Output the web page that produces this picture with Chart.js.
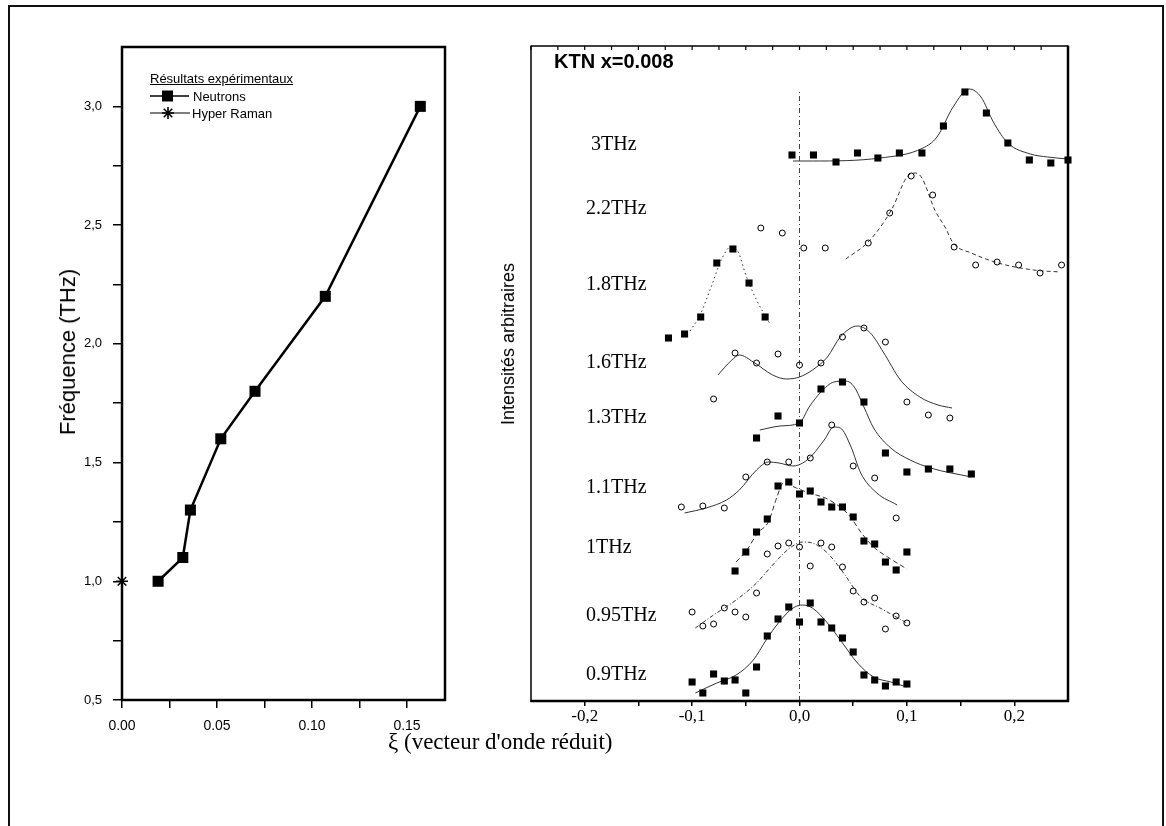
<!DOCTYPE html>
<html><head><meta charset="utf-8">
<script src="https://cdn.jsdelivr.net/npm/chart.js@4.4.0/dist/chart.umd.min.js"></script>
<style>
body{margin:0;background:#fff;width:1166px;height:826px;overflow:hidden;position:relative;font-family:"Liberation Sans",Arial,sans-serif;}
#frame{position:absolute;left:8px;top:5px;width:1152px;height:840px;border:2px solid #111;border-bottom:none;}
#cL{position:absolute;left:0;top:0;}
#cR{position:absolute;left:480px;top:0;}
.t{position:absolute;white-space:nowrap;color:#000;}
.serif{font-family:"Liberation Serif","Times New Roman",serif;}
.thz{font-size:20px;line-height:20px;}
.leg{font-size:13px;line-height:13px;}
.rot{transform:translate(-50%,-50%) rotate(-90deg);}
</style></head>
<body>
<div id="frame"></div>
<canvas id="cL" width="460" height="730"></canvas>
<canvas id="cR" width="686" height="731"></canvas>

<div class="t rot" style="left:68px;top:352px;font-size:22px;line-height:22px;">Fréquence (THz)</div>
<div class="t rot" style="left:508px;top:344px;font-size:18px;line-height:18px;">Intensités arbitraires</div>
<div class="t serif" style="left:388px;top:730px;font-size:23px;line-height:23px;">ξ (vecteur d'onde réduit)</div>

<div class="t leg" style="left:150px;top:72px;text-decoration:underline;">Résultats expérimentaux</div>
<div class="t leg" style="left:193px;top:90px;">Neutrons</div>
<div class="t leg" style="left:192px;top:107px;">Hyper Raman</div>

<div class="t" style="left:554px;top:51px;font-size:20px;line-height:20px;font-weight:bold;">KTN x=0.008</div>
<div class="t serif thz" style="left:591px;top:133px;">3THz</div>
<div class="t serif thz" style="left:586px;top:197px;">2.2THz</div>
<div class="t serif thz" style="left:586px;top:273px;">1.8THz</div>
<div class="t serif thz" style="left:586px;top:351px;">1.6THz</div>
<div class="t serif thz" style="left:586px;top:406px;">1.3THz</div>
<div class="t serif thz" style="left:586px;top:476px;">1.1THz</div>
<div class="t serif thz" style="left:586px;top:536px;">1THz</div>
<div class="t serif thz" style="left:586px;top:604px;">0.95THz</div>
<div class="t serif thz" style="left:586px;top:663px;">0.9THz</div>

<script>
// ---------- Left panel: dispersion ----------
const neutronXi   = [0.019, 0.032, 0.036, 0.052, 0.070, 0.107, 0.157];
const neutronFreq = [1.0, 1.1, 1.3, 1.6, 1.8, 2.2, 3.0];
const ramanXi   = [0.0];
const ramanFreq = [1.0];

// tick values
const leftXTicks  = [0, 0.025, 0.05, 0.075, 0.10, 0.125, 0.15];
const leftYTicks  = [0.5, 0.75, 1.0, 1.25, 1.5, 1.75, 2.0, 2.25, 2.5, 2.75, 3.0];
const rightXTicks = [-0.2, -0.15, -0.1, -0.05, 0, 0.05, 0.1, 0.15, 0.2];
const rightTopTicks = [-0.25,-0.225,-0.2,-0.175,-0.15,-0.125,-0.1,-0.075,-0.05,-0.025,0,0.025,0.05,0.075,0.1,0.125,0.15,0.175,0.2,0.225,0.25];

// ---------- Right panel: scans (intensity in arbitrary units, offset) ----------
const p09x = [-0.10,-0.09,-0.08,-0.07,-0.06,-0.05,-0.04,-0.03,-0.02,-0.01,0.00,0.01,0.02,0.03,0.04,0.05,0.06,0.07,0.08,0.09,0.10];
const p09y = [19,8,27,20,21,8,34,65,82,94,79,98,79,73,63,49,26,21,15,19,17];
const f09x = [-0.097,-0.077,-0.059,-0.043,-0.031,-0.019,-0.006,0.003,0.012,0.026,0.038,0.054,0.069,0.085,0.100];
const f09y = [8,18,26,41,61,79,93,96,93,78,61,38,24,19,14];

const p095x = [-0.10,-0.09,-0.08,-0.07,-0.06,-0.05,-0.04,-0.03,-0.02,-0.01,0.00,0.01,0.02,0.03,0.04,0.05,0.06,0.07,0.08,0.09,0.10];
const p095y = [89,75,77,93,89,84,108,147,155,158,154,135,158,154,134,110,99,103,72,85,78];
const f095x = [-0.097,-0.080,-0.059,-0.040,-0.025,-0.009,0.003,0.012,0.026,0.041,0.057,0.075,0.100];
const f095y = [73,86,101,118,136,153,159,158,148,128,104,93,78];

const p10x = [-0.06,-0.05,-0.04,-0.03,-0.02,-0.01,0.00,0.01,0.02,0.03,0.04,0.05,0.06,0.07,0.08,0.09,0.10];
const p10y = [130,149,169,182,215,219,207,210,199,194,194,184,160,157,139,131,149];
const f10x = [-0.059,-0.049,-0.039,-0.029,-0.021,-0.015,-0.003,0.009,0.026,0.046,0.057,0.069,0.082,0.100];
const f10y = [139,151,168,179,204,218,213,208,202,186,169,154,144,132];

const p11x = [-0.11,-0.09,-0.07,-0.05,-0.03,-0.01,0.01,0.03,0.05,0.07,0.09];
const p11y = [194,195,193,224,239,239,243,276,235,223,183];
const f11x = [-0.107,-0.087,-0.068,-0.056,-0.040,-0.029,-0.019,-0.006,0.003,0.012,0.023,0.032,0.038,0.048,0.057,0.072,0.091];
const f11y = [188,193,201,211,231,239,238,235,238,246,261,274,273,254,228,208,196];

const p13x = [-0.04,-0.02,0.00,0.02,0.04,0.06,0.08,0.10,0.12,0.14,0.16];
const p13y = [263,285,278,312,319,299,248,229,232,232,227];
const f13x = [-0.037,-0.018,0.000,0.009,0.020,0.032,0.043,0.051,0.060,0.069,0.085,0.103,0.122,0.160];
const f13y = [271,275,278,294,309,319,320,314,294,273,253,241,233,224];

const p16x = [-0.08,-0.06,-0.04,-0.02,0.00,0.02,0.04,0.06,0.08,0.10,0.12,0.14];
const p16y = [302,348,338,347,336,338,364,373,359,299,286,283];
const f16x = [-0.076,-0.063,-0.056,-0.043,-0.025,-0.012,0.000,0.012,0.026,0.038,0.054,0.066,0.078,0.094,0.112,0.129,0.142];
const f16y = [326,341,346,339,326,322,324,331,344,364,375,368,349,321,304,296,293];

const p18x = [-0.122,-0.107,-0.092,-0.077,-0.062,-0.047,-0.032];
const p18y = [363,367,384,438,452,418,384];
const f18x = [-0.102,-0.093,-0.083,-0.072,-0.064,-0.057,-0.050,-0.040,-0.028];
const f18y = [370,385,412,443,454,449,426,401,378];

const p22x = [-0.036,-0.016,0.004,0.024,0.064,0.084,0.104,0.124,0.144,0.164,0.184,0.204,0.224,0.244];
const p22y = [473,468,453,453,458,488,525,506,454,436,439,436,428,436];
const f22x = [0.043,0.063,0.078,0.087,0.100,0.108,0.114,0.126,0.136,0.143,0.160,0.185,0.218,0.243];
const f22y = [442,458,478,494,524,528,523,491,473,458,448,438,431,429];

const p30x = [-0.007,0.013,0.034,0.054,0.073,0.093,0.114,0.134,0.154,0.174,0.194,0.214,0.234,0.250];
const p30y = [546,546,539,548,543,548,548,575,609,588,558,541,538,541];
const f30x = [-0.006,0.012,0.075,0.115,0.128,0.143,0.158,0.169,0.181,0.194,0.215,0.231,0.250];
const f30y = [540,540,543,553,564,594,612,604,578,558,547,544,542];

const zeroLineX = [0, 0];
const zeroLineY = [0, 609];

// ---------- helpers ----------
const SANS = '"Liberation Sans", Arial, sans-serif';
const SERIF = '"Liberation Serif", "Times New Roman", serif';
const pairs = (xs, ys) => xs.map((x, i) => ({x: x, y: ys[i]}));
const isStep = (v, s) => Math.abs(v / s - Math.round(v / s)) < 1e-6;
const comma = (v, d) => (Math.abs(v) < 1e-9 ? 0 : v).toFixed(d).replace('.', ',');
const setTicks = list => (s => { s.ticks = list.map(v => ({value: v})); });

const leftFrame = {
  id: 'leftFrame',
  afterDraw(chart) {
    const {ctx, chartArea: a} = chart;
    ctx.save();
    ctx.strokeStyle = '#000';
    ctx.lineWidth = 2.5;
    ctx.strokeRect(a.left, a.top, a.right - a.left, a.bottom - a.top);
    // legend symbols
    ctx.lineWidth = 1.5;
    ctx.beginPath(); ctx.moveTo(150, 96); ctx.lineTo(189, 96); ctx.stroke();
    ctx.fillStyle = '#000';
    ctx.fillRect(162, 90.5, 11, 11);
    ctx.lineWidth = 1;
    ctx.beginPath(); ctx.moveTo(150, 113); ctx.lineTo(190, 113); ctx.stroke();
    ctx.lineWidth = 1.6;
    Chart.helpers.drawPoint(ctx, {pointStyle: 'star', radius: 6, borderWidth: 1.6, rotation: 0}, 168, 113);
    ctx.restore();
  }
};

const rightFrame = {
  id: 'rightFrame',
  afterDraw(chart) {
    const {ctx, chartArea: a} = chart;
    const xs = chart.scales.x;
    ctx.save();
    ctx.strokeStyle = '#000';
    const seg = (w, x1, y1, x2, y2) => { ctx.lineWidth = w; ctx.beginPath(); ctx.moveTo(x1, y1); ctx.lineTo(x2, y2); ctx.stroke(); };
    seg(1.5, a.left, a.top - 0.5, a.left, a.bottom + 1);
    seg(1.5, a.left, a.top, a.right, a.top);
    seg(2.5, a.right, a.top - 0.5, a.right, a.bottom + 1);
    seg(2.5, a.left - 0.5, a.bottom, a.right + 1, a.bottom);
    ctx.lineWidth = 1.2;
    rightTopTicks.forEach(v => {
      const px = xs.getPixelForValue(v);
      ctx.beginPath(); ctx.moveTo(px, a.top); ctx.lineTo(px, a.top + 4); ctx.stroke();
    });
    ctx.restore();
  }
};

// ---------- left chart ----------
new Chart(document.getElementById('cL'), {
  type: 'scatter',
  data: {datasets: [
    {label: 'Hyper Raman', data: pairs(ramanXi, ramanFreq), showLine: false, clip: false,
     pointStyle: 'star', pointRadius: 6, pointBorderColor: '#000', pointBackgroundColor: '#000', pointBorderWidth: 1.6},
    {label: 'Neutrons', data: pairs(neutronXi, neutronFreq), showLine: true, clip: false,
     borderColor: '#000', borderWidth: 2.5, tension: 0,
     pointStyle: 'rect', pointRadius: 7.8, pointBackgroundColor: '#000', pointBorderWidth: 0}
  ]},
  options: {
    responsive: false, animation: false, events: [],
    layout: {padding: {left: 0, top: 47, right: 15, bottom: 0}},
    plugins: {legend: {display: false}, tooltip: {enabled: false}},
    scales: {
      x: {type: 'linear', min: 0, max: 0.17,
        afterFit(s) { s.height = 30; },
        afterBuildTicks: setTicks(leftXTicks),
        ticks: {autoSkip: false, maxRotation: 0, padding: 10, color: '#000',
          font: {family: SANS, size: 14},
          callback: v => isStep(v, 0.05) ? comma(v, 2) : ''},
        grid: {display: true, drawOnChartArea: false, drawTicks: true, tickLength: 8, color: '#000', lineWidth: 1.5},
        border: {display: false}},
      y: {type: 'linear', min: 0.5, max: 3.25,
        afterFit(s) { s.width = 122; },
        afterBuildTicks: setTicks(leftYTicks),
        ticks: {autoSkip: false, padding: 11, color: '#000',
          font: {family: SANS, size: 13},
          callback: v => isStep(v, 0.5) ? comma(v, 1) : ''},
        grid: {display: true, drawOnChartArea: false, drawTicks: true, tickLength: 9, color: '#000', lineWidth: 1.5},
        border: {display: false}}
    }
  },
  plugins: [leftFrame]
});

// ---------- right chart ----------
const sq = (xs, ys) => ({data: pairs(xs, ys), showLine: false, clip: false, pointStyle: 'rect', pointRadius: 5,
  pointBackgroundColor: '#000', pointBorderWidth: 0});
const ci = (xs, ys) => ({data: pairs(xs, ys), showLine: false, clip: false, pointStyle: 'circle', pointRadius: 3,
  pointBackgroundColor: 'rgba(255,255,255,0)', pointBorderColor: '#000', pointBorderWidth: 1});
const fit = (xs, ys, dash) => ({data: pairs(xs, ys), showLine: true, pointRadius: 0, borderColor: '#333',
  borderWidth: 1, borderDash: dash, cubicInterpolationMode: 'monotone'});

new Chart(document.getElementById('cR'), {
  type: 'scatter',
  data: {datasets: [
    sq(p09x, p09y), ci(p095x, p095y), sq(p10x, p10y), ci(p11x, p11y), sq(p13x, p13y),
    ci(p16x, p16y), sq(p18x, p18y), ci(p22x, p22y), sq(p30x, p30y),
    fit(f09x, f09y, []), fit(f095x, f095y, [4, 2, 1, 2]), fit(f10x, f10y, [5, 3]), fit(f11x, f11y, []),
    fit(f13x, f13y, []), fit(f16x, f16y, []), fit(f18x, f18y, [1.5, 3]), fit(f22x, f22y, [4, 3]),
    fit(f30x, f30y, []),
    {data: pairs(zeroLineX, zeroLineY), showLine: true, pointRadius: 0, borderColor: '#444', borderWidth: 1, borderDash: [5, 3, 1, 3]}
  ]},
  options: {
    responsive: false, animation: false, events: [],
    layout: {padding: {left: 51, top: 46, right: 98, bottom: 0}},
    plugins: {legend: {display: false}, tooltip: {enabled: false}},
    scales: {
      x: {type: 'linear', min: -0.25, max: 0.25,
        afterFit(s) { s.height = 30; },
        afterBuildTicks: setTicks(rightXTicks),
        ticks: {autoSkip: false, maxRotation: 0, padding: 0, color: '#000',
          font: {family: SERIF, size: 17},
          callback: v => isStep(v, 0.1) ? comma(v, 1) : ''},
        grid: {display: true, drawOnChartArea: false, drawTicks: true, tickLength: 5, color: '#000', lineWidth: 1.5},
        border: {display: false}},
      y: {type: 'linear', min: 0, max: 655, display: false}
    }
  },
  plugins: [rightFrame]
});
</script>
</body></html>
